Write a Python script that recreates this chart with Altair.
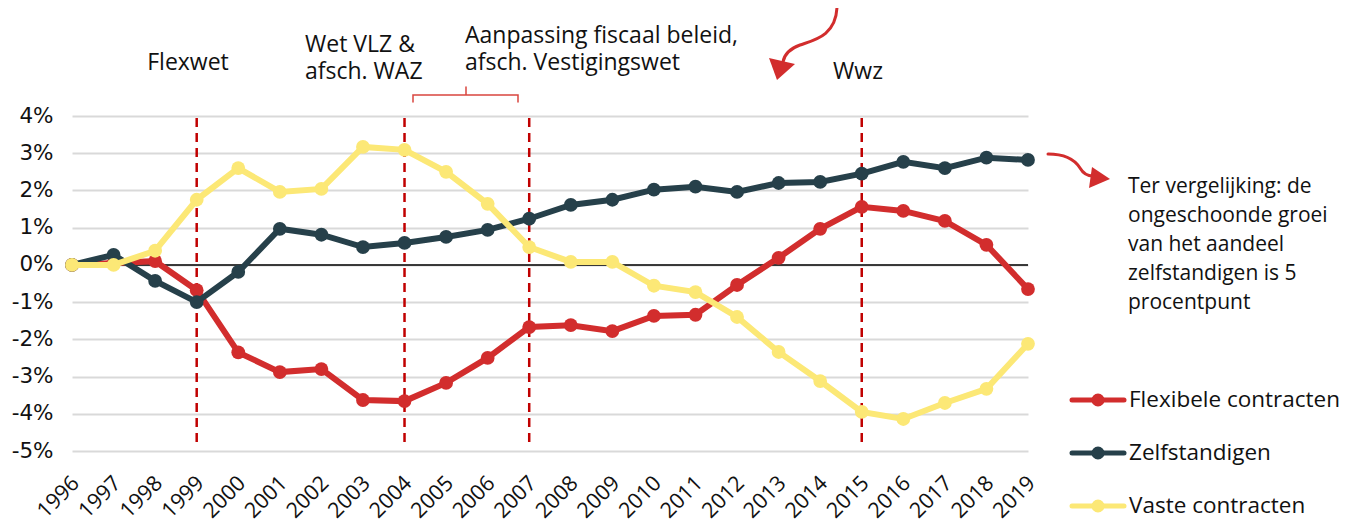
import altair as alt
import pandas as pd

years = list(range(1996, 2020))
flex = [0.0, 0.05, 0.1, -0.68, -2.35, -2.88, -2.8, -3.63, -3.66, -3.17, -2.5, -1.67,
        -1.62, -1.78, -1.37, -1.34, -0.54, 0.19, 0.97, 1.56, 1.45, 1.18, 0.54, -0.65]
zelf = [0.0, 0.27, -0.43, -1.0, -0.19, 0.97, 0.81, 0.48, 0.59, 0.75, 0.94, 1.24,
        1.61, 1.75, 2.02, 2.1, 1.96, 2.2, 2.23, 2.45, 2.77, 2.6, 2.88, 2.82]
vast = [0.0, 0.0, 0.38, 1.75, 2.6, 1.96, 2.04, 3.17, 3.09, 2.5, 1.64, 0.48,
        0.08, 0.08, -0.56, -0.73, -1.4, -2.34, -3.12, -3.95, -4.14, -3.71, -3.33, -2.12]

series_names = ["Flexibele contracten", "Zelfstandigen", "Vaste contracten"]
series_values = [flex, zelf, vast]
series_colors = ["#D22D2D", "#26404A", "#FCE876"]

event_years = [1999, 2004, 2007, 2015]
y_ticks = list(range(-5, 5))

FONT = "Open Sans"
TICK_FONT = "DejaVu Sans"
W, H = 956, 335
OX, OY = 72, 116  # page offset of plot origin

xscale = alt.Scale(domain=[1996, 2019], nice=False, zero=False)
yscale = alt.Scale(domain=[-5, 4], nice=False)

xaxis = alt.Axis(values=years, format="d", labelAngle=-45, labelAlign="right",
                 labelBaseline="top", labelPadding=21, labelOffset=-4, ticks=False, domain=False,
                 grid=False, title=None, labelFont=FONT, labelFontSize=21.5,
                 labelColor="#111111", labelOverlap=False)
yaxis = alt.Axis(values=y_ticks, labelExpr="datum.value + '%'", grid=True,
                 gridColor="#D9D9D9", gridWidth=2, ticks=False, domain=False,
                 title=None, labelFont=TICK_FONT, labelFontSize=21.5, labelColor="#111111",
                 labelPadding=19)

layers = []

dashed = alt.Chart(pd.DataFrame({"year": event_years})).mark_rule(
    color="#C00000", strokeWidth=2.5, strokeDash=[9, 6]
).encode(
    x=alt.X("year:Q", scale=xscale, axis=xaxis),
    y=alt.value(2), y2=alt.value(331),
)

zero = alt.Chart(pd.DataFrame({"v": [0]})).mark_rule(color="#000000", strokeWidth=1.5).encode(
    y=alt.Y("v:Q", scale=yscale, axis=yaxis)
)

layers += [zero, dashed]

for name, vals, col in zip(series_names, series_values, series_colors):
    df = pd.DataFrame({"year": years, "value": vals, "series": name})
    base = alt.Chart(df).encode(
        x=alt.X("year:Q", scale=xscale, axis=xaxis),
        y=alt.Y("value:Q", scale=yscale, axis=yaxis),
    )
    layers.append(base.mark_line(color=col, strokeWidth=6))
    layers.append(base.mark_point(color=col, filled=True, opacity=1, size=190))

# annotation texts (y is the centre of the first line)
def txt(text, px, py, align="left", size=23):
    return alt.Chart(pd.DataFrame({"t": [text]})).mark_text(
        align=align, baseline="middle", font=FONT, fontSize=size, color="#111111",
        lineBreak="\n", lineHeight=27
    ).encode(x=alt.value(px - OX), y=alt.value(py - OY), text="t:N")

layers.append(txt("Flexwet", 188, 63, align="center"))
layers.append(txt("Wet VLZ &\nafsch. WAZ", 305, 45))
layers.append(txt("Aanpassing fiscaal beleid,\nafsch. Vestigingswet", 465, 36))
layers.append(txt("Wwz", 858, 72, align="center"))

note = alt.Chart(pd.DataFrame({"t": ["Ter vergelijking: de\nongeschoonde groei\nvan het aandeel\nzelfstandigen is 5\nprocentpunt"]})).mark_text(
    align="left", baseline="middle", font=FONT, fontSize=21, color="#111111",
    lineBreak="\n", lineHeight=29
).encode(x=alt.value(1128 - OX), y=alt.value(187 - OY), text="t:N")
layers.append(note)

# decorative shapes as custom symbol paths
def shape_path(cmds, cx, cy, h):
    out = []
    for c, pts in cmds:
        s = c
        for (x, y) in pts:
            s += f"{(x - cx) / h:.4f},{(y - cy) / h:.4f} "
        out.append(s.strip())
    return " ".join(out)

def deco(cmds, cx, cy, h, color, filled, sw=2.5):
    p = shape_path(cmds, cx, cy, h)
    return alt.Chart(pd.DataFrame({"d": [0]})).mark_point(
        shape=p, size=(2 * h) ** 2, filled=filled, color=color, opacity=1,
        strokeWidth=sw, strokeCap="round"
    ).encode(x=alt.value(cx - OX), y=alt.value(cy - OY))

ARROW = "#D22D2D"
# top arrow
layers.append(deco([("M", [(837, 7)]), ("C", [(836, 36), (814, 40), (800, 45)]),
                    ("C", [(789, 49), (784, 56), (783, 62)])], 807, 42, 40, ARROW, False, sw=3))
layers.append(deco([("M", [(769, 58)]), ("L", [(795, 64)]), ("L", [(777, 80)]), ("Z", [])],
                   782, 68, 20, ARROW, True, sw=1))
# right arrow
layers.append(deco([("M", [(1048, 154)]), ("C", [(1066, 154), (1075, 160), (1080, 168)]),
                    ("C", [(1084, 175), (1089, 176), (1093, 176)])], 1075, 165, 40, ARROW, False, sw=3))
layers.append(deco([("M", [(1092, 167)]), ("L", [(1110, 179)]), ("L", [(1089, 188)]), ("Z", [])],
                   1098, 178, 20, ARROW, True, sw=1))
# bracket
layers.append(deco([("M", [(413, 102)]), ("L", [(413, 95), (518, 95), (518, 102)]),
                    ("M", [(466, 95)]), ("L", [(466, 87)])], 466, 95, 60, "#D9463F", False, sw=1.5))

# manual legend
for i, (name, col) in enumerate(zip(series_names, series_colors)):
    yy = 400 + 53 * i - OY
    leg = alt.Chart(pd.DataFrame({"t": [name]}))
    layers.append(leg.mark_rule(color=col, strokeWidth=5, strokeCap="round").encode(
        x=alt.value(1072 - OX), x2=alt.value(1124 - OX), y=alt.value(yy)))
    layers.append(leg.mark_point(color=col, filled=True, opacity=1, size=170).encode(
        x=alt.value(1098 - OX), y=alt.value(yy)))
    layers.append(leg.mark_text(align="left", baseline="middle", font=FONT, fontSize=22.5,
                                color="#111111").encode(
        x=alt.value(1129 - OX), y=alt.value(yy), text="t:N"))

chart = alt.layer(*layers).properties(
    width=W, height=H,
    padding={"left": 64, "top": 108, "right": 325, "bottom": 72},
    autosize=alt.AutoSizeParams(type="none"),
    background="white",
).configure_view(stroke=None)

chart.save("out.html", embed_options={"renderer": "svg", "actions": False})
